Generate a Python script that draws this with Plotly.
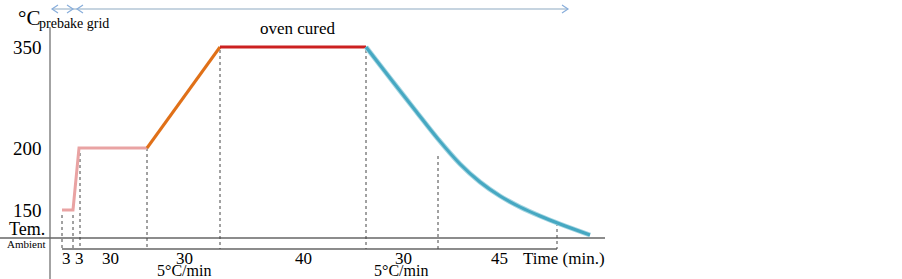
import plotly.graph_objects as go

# ---- schematic data (x = schematic time position, y = schematic temperature level) ----
prebake_x = [62, 73, 79, 147]
prebake_y = [210, 210, 148, 148]          # 150 -> 200 °C
ramp_x = [147, 220]
ramp_y = [148, 47]                         # 200 -> 350 °C
cure_x = [220, 366]
cure_y = [47, 47]                          # 350 °C plateau
cool_x = [366, 390, 415, 438, 460, 480, 500, 520, 540, 560, 590]
cool_y = [47, 78, 110, 139, 164, 182, 196, 207, 216, 224, 235]

temp_tick_vals = [47, 148, 210]
temp_tick_text = ["350", "200", "150"]
ambient_level = 238
bracket_level = 249

boundary_x = [62, 73, 80, 147, 220, 366, 438, 557]
boundary_top = [215, 215, 153, 148, 50, 50, 156, 223]

stage_label_x = [66.5, 79.5, 110.5, 184, 303, 403, 499]
stage_labels = ["3", "3", "30", "30", "40", "30", "45"]
rate_label_x = [184, 401]
rate_labels = ["5°C/min", "5°C/min"]

FONT = "Liberation Serif, Times New Roman, serif"
GRAY = "#666666"

fig = go.Figure()

def line(x, y, color, width, dash=None, shape="linear"):
    fig.add_trace(go.Scatter(x=x, y=y, mode="lines", hoverinfo="skip",
                             line=dict(color=color, width=width, dash=dash, shape=shape),
                             showlegend=False))

# axes lines
line([50, 50], [27, 279], GRAY, 1.2)
line([0, 605], [ambient_level, ambient_level], GRAY, 1.5)
line([boundary_x[0], boundary_x[-1]], [bracket_level, bracket_level], GRAY, 1.5)

# dashed boundaries
for bx, bt in zip(boundary_x, boundary_top):
    line([bx, bx], [bt, bracket_level], "#444444", 1, "dot")

# top arrow line
line([52, 568], [9, 9], "#b3c6d6", 1.5)
chev_x, chev_y = [], []
for tip, d in [(52, 1), (73, -1), (77, 1), (568, -1)]:
    chev_x += [tip + 6 * d, tip, tip + 6 * d, None]
    chev_y += [5, 9, 13, None]
line(chev_x, chev_y, "#88aedb", 1.2)

# profile
line(prebake_x, prebake_y, "#e9a3a3", 3)
line(ramp_x, ramp_y, "#e07018", 3)
line(cure_x, cure_y, "#cc2020", 3)
line(cool_x, cool_y, "#a6d6e2", 5, shape="spline")
line(cool_x, cool_y, "#46a8c2", 3, shape="spline")

def text(x, y, t, size, xanchor="center"):
    fig.add_annotation(x=x, y=y, text=t, showarrow=False, xanchor=xanchor, yanchor="middle",
                       font=dict(family=FONT, size=size, color="#000000"))

for v, t in zip(temp_tick_vals, temp_tick_text):
    text(27, v, t, 19)
text(16, 18, "°C", 21, "left")
text(37, 23, "prebake grid", 14, "left")
text(27, 229, "Tem.", 18)
text(26, 244, "Ambient", 11)
text(298, 28, "oven cured", 17)
for x, t in zip(stage_label_x, stage_labels):
    text(x, 258, t, 17)
for x, t in zip(rate_label_x, rate_labels):
    text(x, 270, t, 16)
text(564, 258, "Time (min.)", 17)

fig.update_layout(
    width=902, height=279,
    margin=dict(l=0, r=0, t=0, b=0),
    paper_bgcolor="white", plot_bgcolor="white",
    xaxis=dict(range=[0, 902], visible=False, fixedrange=True),
    yaxis=dict(range=[279, 0], visible=False, fixedrange=True),
)
fig.write_html("out.html", config={"displayModeBar": False},
               post_script="document.body.style.margin='0';document.body.style.overflow='hidden';")
